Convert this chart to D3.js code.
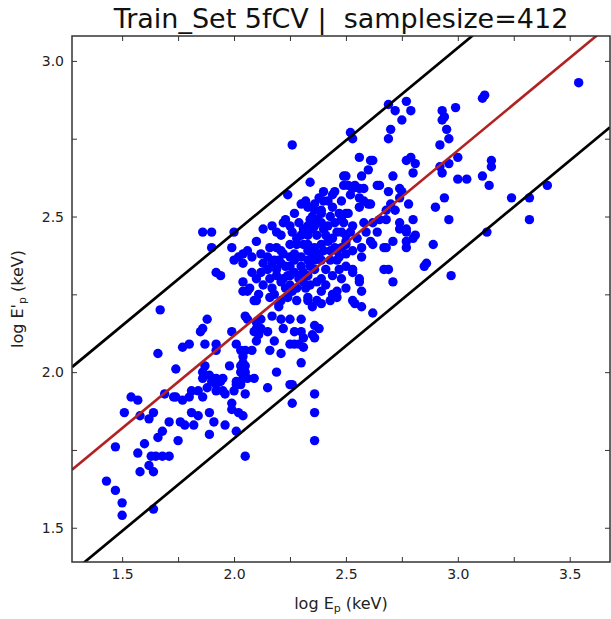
<!DOCTYPE html>
<html>
<head>
<meta charset="utf-8">
<script src="https://cdn.jsdelivr.net/npm/d3@7"></script>
<style>
  body { margin: 0; background: #fff; }
  svg { display: block; font-family: "DejaVu Sans", sans-serif; }
</style>
</head>
<body>
<svg id="chart" width="611" height="619"></svg>
<script>
// Training-set sample: [log Ep, log E'p] (keV), 5-fold cross-validated predictions
const trainPoints = [
  [1.67,2.20],[1.66,2.06],[1.77,2.08],[1.80,2.09],[1.74,2.01],[1.69,1.93],[1.74,1.92],[1.73,1.92],[1.77,1.91],[1.80,1.92],
  [1.81,1.94],[1.84,1.94],[1.54,1.92],[1.57,1.91],[1.51,1.87],[1.58,1.86],[1.62,1.85],[1.64,1.87],[1.71,1.84],[1.76,1.84],
  [1.78,1.83],[1.82,1.83],[1.81,1.87],[1.84,1.86],[1.68,1.81],[1.66,1.79],[1.75,1.78],[1.60,1.77],[1.47,1.76],[1.57,1.74],
  [1.63,1.73],[1.65,1.73],[1.68,1.73],[1.71,1.73],[1.62,1.70],[1.64,1.68],[1.58,1.68],[1.43,1.65],[1.47,1.62],[1.50,1.58],
  [1.50,1.54],[1.64,1.56],
  [2.24,2.57],[2.23,2.49],[2.22,2.48],[2.17,2.47],[2.19,2.45],[2.21,2.44],[2.13,2.46],[2.00,2.45],[1.86,2.45],[1.90,2.45],
  [2.10,2.42],[2.16,2.40],[1.99,2.40],[1.90,2.40],[2.21,2.39],[2.12,2.38],[2.04,2.38],[2.06,2.39],[2.02,2.37],[2.08,2.37],
  [2.15,2.37],[2.18,2.36],[2.00,2.36],[2.04,2.35],[2.13,2.35],[2.17,2.35],[2.21,2.35],[2.23,2.34],[2.25,2.34],[2.19,2.33],
  [2.15,2.33],[1.92,2.32],[1.94,2.31],[2.12,2.32],[2.19,2.31],[2.22,2.30],[2.24,2.31],[2.16,2.30],[2.21,2.29],[2.04,2.29],
  [2.07,2.27],[2.17,2.27],[2.18,2.25],[2.04,2.26],[2.06,2.26],[2.11,2.25],[2.10,2.23],[2.09,2.23],[2.16,2.24],[2.24,2.24],
  [2.20,2.21],[2.21,2.23],[2.20,2.22],[2.05,2.18],[2.06,2.17],[2.12,2.17],[2.17,2.18],[2.21,2.17],[1.88,2.17],
  [1.86,2.14],[1.85,2.13],[2.10,2.16],[2.22,2.14],[1.99,2.13],[2.09,2.13],[2.11,2.12],[2.12,2.14],[2.15,2.13],[2.10,2.14],
  [2.01,2.09],[2.10,2.10],[2.18,2.10],[1.87,2.09],[1.92,2.09],[1.92,2.07],[2.03,2.07],[2.05,2.07],[2.08,2.07],[2.16,2.07],
  [2.21,2.06],[2.04,2.05],[1.87,2.02],[1.98,2.02],[2.04,2.03],[2.03,2.02],[2.05,2.02],[2.03,2.00],[2.05,2.00],[2.19,2.00],
  [1.86,2.00],[1.86,1.98],[1.89,1.99],[1.90,1.97],[1.92,1.98],[1.94,1.97],[1.95,1.98],[1.92,1.96],[2.04,1.98],[2.06,1.98],
  [2.03,1.96],[2.09,1.98],[2.01,1.96],[2.01,1.97],[1.88,1.95],[1.92,1.94],[1.95,1.94],[1.96,1.93],[2.00,1.94],[2.05,1.93],
  [2.15,1.95],[1.86,1.92],[1.99,1.90],[1.99,1.88],[2.02,1.87],[2.04,1.86],[1.89,1.87],[1.91,1.84],[1.96,1.83],[2.01,1.81],
  [1.89,1.80],[2.05,1.73],[2.25,1.96],
  [2.52,2.77],[2.53,2.75],[2.26,2.73],[2.56,2.69],[2.61,2.68],[2.62,2.68],[2.60,2.65],[2.49,2.63],[2.50,2.63],[2.57,2.63],
  [2.34,2.61],[2.54,2.60],[2.49,2.60],[2.51,2.60],[2.56,2.59],[2.58,2.59],[2.53,2.59],[2.64,2.60],[2.65,2.60],[2.45,2.58],
  [2.44,2.57],[2.40,2.58],[2.52,2.57],[2.56,2.56],[2.58,2.55],[2.61,2.54],[2.60,2.54],[2.42,2.55],[2.40,2.55],[2.32,2.55],
  [2.30,2.54],[2.33,2.53],[2.36,2.54],[2.36,2.52],[2.27,2.51],[2.39,2.52],[2.39,2.51],[2.47,2.51],[2.50,2.51],[2.51,2.51],
  [2.48,2.49],[2.49,2.48],[2.43,2.50],[2.56,2.53],[2.34,2.49],[2.37,2.49],[2.33,2.47],[2.36,2.47],[2.39,2.48],[2.35,2.46],
  [2.45,2.48],[2.58,2.48],[2.62,2.48],[2.25,2.47],[2.26,2.45],[2.52,2.45],[2.50,2.44],[2.48,2.45],[2.59,2.45],[2.64,2.45],
  [2.30,2.44],[2.33,2.44],[2.37,2.44],[2.41,2.44],[2.44,2.43],[2.42,2.42],[2.50,2.42],[2.50,2.41],[2.61,2.42],[2.62,2.41],
  [2.31,2.41],[2.33,2.41],[2.28,2.41],[2.25,2.41],[2.39,2.41],[2.36,2.40],[2.45,2.40],[2.43,2.39],[2.48,2.40],[2.46,2.39],
  [2.50,2.38],[2.33,2.39],[2.38,2.38],[2.40,2.39],[2.27,2.38],[2.30,2.37],[2.57,2.37],[2.25,2.37],[2.27,2.36],[2.30,2.34],
  [2.33,2.36],[2.36,2.36],[2.39,2.36],[2.46,2.36],[2.47,2.37],[2.50,2.34],[2.53,2.33],[2.53,2.32],[2.34,2.34],[2.36,2.33],
  [2.56,2.30],[2.56,2.29],[2.25,2.31],[2.27,2.32],[2.29,2.30],[2.33,2.31],[2.31,2.29],[2.37,2.29],[2.39,2.30],[2.25,2.28],
  [2.28,2.27],[2.32,2.27],[2.34,2.28],[2.39,2.26],[2.46,2.26],[2.44,2.25],[2.43,2.23],[2.46,2.24],[2.57,2.26],[2.28,2.23],
  [2.33,2.24],[2.33,2.23],[2.35,2.21],[2.37,2.23],[2.39,2.22],[2.53,2.23],[2.54,2.22],[2.57,2.21],[2.62,2.19],[2.25,2.17],
  [2.30,2.17],[2.36,2.15],[2.38,2.14],[2.27,2.13],[2.30,2.13],[2.31,2.11],[2.35,2.12],[2.36,2.11],[2.25,2.09],[2.27,2.09],
  [2.29,2.09],[2.31,2.08],[2.30,2.03],[2.26,1.96],[2.36,1.93],[2.26,1.90],[2.36,1.87],[2.36,1.78],
  [2.35,2.50],[2.42,2.47],[2.46,2.45],[2.40,2.46],[2.29,2.48],[2.31,2.46],[2.44,2.53],[2.48,2.55],[2.38,2.56],[2.53,2.47],
  [2.55,2.43],[2.57,2.40],[2.53,2.39],[2.43,2.36],[2.41,2.33],[2.44,2.31],[2.48,2.30],[2.22,2.38],[2.19,2.40],[2.08,2.32],
  [2.10,2.30],[2.13,2.28],[2.47,2.33],[2.26,2.26],[2.23,2.27],[2.41,2.28],[2.50,2.27],[2.28,2.43],[2.35,2.38],[2.31,2.32],
  [2.20,2.36],
  [2.69,2.86],[2.72,2.84],[2.77,2.87],[2.79,2.84],[2.75,2.81],[2.93,2.84],[2.94,2.82],[2.93,2.81],[2.99,2.85],[2.70,2.78],
  [2.69,2.75],[2.95,2.78],[2.96,2.75],[2.92,2.73],[2.77,2.68],[2.79,2.69],[2.81,2.67],[2.80,2.64],[2.92,2.66],[2.93,2.64],
  [2.96,2.67],[3.00,2.69],[2.71,2.63],[3.00,2.62],[3.04,2.62],[2.74,2.59],[2.75,2.58],[2.74,2.56],[2.69,2.58],[2.94,2.56],
  [2.70,2.54],[2.72,2.52],[2.68,2.52],[2.78,2.54],[2.90,2.53],[2.68,2.49],[2.65,2.49],[2.74,2.48],[2.80,2.49],[2.96,2.49],
  [2.74,2.46],[2.77,2.46],[2.77,2.45],[2.81,2.44],
  [2.67,2.40],[2.68,2.40],[2.71,2.42],[2.77,2.42],[2.77,2.40],[2.80,2.43],[2.89,2.41],[2.67,2.33],[2.69,2.33],[2.71,2.29],
  [2.85,2.34],[2.86,2.35],[2.97,2.31],
  [3.54,2.93],[3.12,2.89],[3.11,2.88],[3.15,2.68],[3.15,2.66],[3.11,2.63],[3.14,2.60],[3.40,2.60],[3.24,2.56],[3.32,2.56],
  [3.32,2.49],[3.13,2.45]
];

// Linear relation and its scatter band (log E'p = a + b log Ep, +/- delta)
const fitIntercept = 0.927;
const fitSlope = 0.595;
const bandHalfWidth = 0.33;

const xDomain = [1.276, 3.68];
const yDomain = [1.39, 3.08];
const xTickValues = [1.5, 1.75, 2.0, 2.25, 2.5, 2.75, 3.0, 3.25, 3.5];
const yTickValues = [1.5, 1.75, 2.0, 2.25, 2.5, 2.75, 3.0];
const labelledTicks = [1.5, 2.0, 2.5, 3.0, 3.5];

const titleText = "Train_Set 5fCV |  samplesize=" + trainPoints.length;

const svg = d3.select("#chart");
const m = { left: 72, right: 610, top: 36, bottom: 562 };

const x = d3.scaleLinear().domain(xDomain).range([m.left, m.right]);
const y = d3.scaleLinear().domain(yDomain).range([m.bottom, m.top]);

svg.append("defs").append("clipPath").attr("id", "plot-clip")
  .append("rect")
  .attr("x", m.left).attr("y", m.top)
  .attr("width", m.right - m.left).attr("height", m.bottom - m.top);

const plot = svg.append("g").attr("clip-path", "url(#plot-clip)");

// scatter
plot.selectAll("circle.pt")
  .data(trainPoints)
  .join("circle")
  .attr("class", "pt")
  .attr("cx", d => x(d[0]))
  .attr("cy", d => y(d[1]))
  .attr("r", 4.7)
  .attr("fill", "#0000ff");

// relation lines
const lineFor = offset => {
  const [x0, x1] = xDomain;
  return [[x0, fitIntercept + fitSlope * x0 + offset], [x1, fitIntercept + fitSlope * x1 + offset]];
};
const lineGen = d3.line().x(d => x(d[0])).y(d => y(d[1]));

[bandHalfWidth, -bandHalfWidth].forEach(off => {
  plot.append("path").attr("d", lineGen(lineFor(off)))
    .attr("fill", "none").attr("stroke", "#000").attr("stroke-width", 2.7);
});
plot.append("path").attr("d", lineGen(lineFor(0)))
  .attr("fill", "none").attr("stroke", "#b22222").attr("stroke-width", 2.6);

// axes (inward ticks on all four sides)
const fmt = d => labelledTicks.includes(d) ? d.toFixed(1) : "";
const tickLen = 5;
const styleAxis = g => {
  g.select(".domain").remove();
  g.selectAll(".tick line").attr("stroke", "#333").attr("stroke-width", 1);
  g.selectAll(".tick text").attr("fill", "#222").attr("font-size", 14)
    .attr("font-family", "DejaVu Sans, sans-serif");
};

svg.append("g").attr("transform", `translate(0,${m.bottom})`)
  .call(d3.axisBottom(x).tickValues(xTickValues).tickFormat(fmt).tickSizeInner(-tickLen).tickSizeOuter(0).tickPadding(7))
  .call(styleAxis);
svg.append("g").attr("transform", `translate(0,${m.top})`)
  .call(d3.axisTop(x).tickValues(xTickValues).tickFormat("").tickSizeInner(-tickLen).tickSizeOuter(0))
  .call(styleAxis);
svg.append("g").attr("transform", `translate(${m.left},0)`)
  .call(d3.axisLeft(y).tickValues(yTickValues).tickFormat(fmt).tickSizeInner(-tickLen).tickSizeOuter(0).tickPadding(8))
  .call(styleAxis);
svg.append("g").attr("transform", `translate(${m.right},0)`)
  .call(d3.axisRight(y).tickValues(yTickValues).tickFormat("").tickSizeInner(-tickLen).tickSizeOuter(0))
  .call(styleAxis);

// frame
svg.append("rect")
  .attr("x", m.left).attr("y", m.top)
  .attr("width", m.right - m.left).attr("height", m.bottom - m.top)
  .attr("fill", "none").attr("stroke", "#333").attr("stroke-width", 1.5);

// title
svg.append("text")
  .attr("x", (m.left + m.right) / 2).attr("y", 28)
  .attr("text-anchor", "middle")
  .attr("font-size", 27).attr("fill", "#111")
  .attr("xml:space", "preserve")
  .style("white-space", "pre")
  .text(titleText);

// x label: log E_p (keV)
const xl = svg.append("text")
  .attr("x", (m.left + m.right) / 2).attr("y", 609)
  .attr("text-anchor", "middle").attr("font-size", 16).attr("fill", "#222");
xl.append("tspan").text("log E");
xl.append("tspan").attr("font-size", 11).attr("dy", 3).text("p");
xl.append("tspan").attr("dy", -3).text(" (keV)");

// y label: log E'_p (keV)
const yl = svg.append("text")
  .attr("transform", `translate(23,${(m.top + m.bottom) / 2}) rotate(-90)`)
  .attr("text-anchor", "middle").attr("font-size", 16).attr("fill", "#222");
yl.append("tspan").text("log E'");
yl.append("tspan").attr("font-size", 11).attr("dy", 3).text("p");
yl.append("tspan").attr("dy", -3).text(" (keV)");
</script>
</body>
</html>
